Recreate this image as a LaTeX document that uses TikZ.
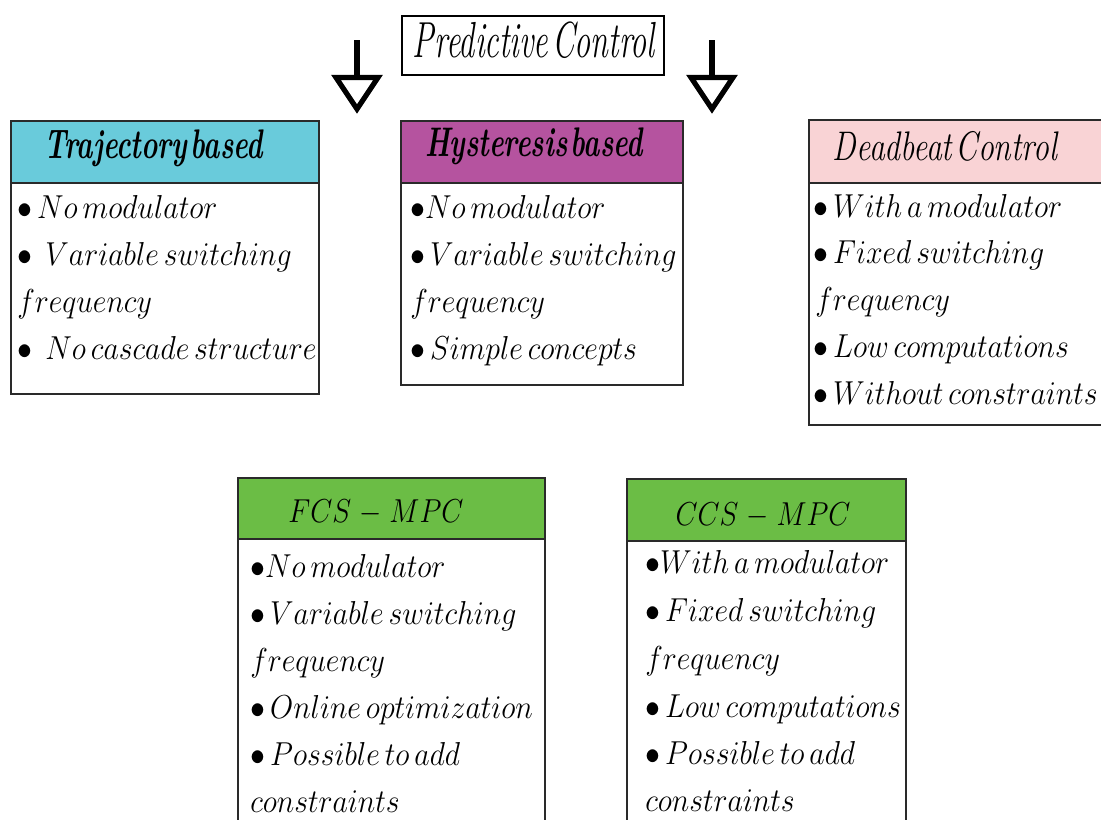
\documentclass[tikz,border=0pt]{standalone}
\usepackage{graphicx}
\usetikzlibrary{calc}
\definecolor{trajfill}{HTML}{69CBDB}
\definecolor{hystfill}{HTML}{B5539F}
\definecolor{deadfill}{HTML}{F9D3D5}
\definecolor{mpcfill}{HTML}{6BBD45}
\definecolor{rule}{HTML}{2A2A2A}
% title text stretched to a given width (in px of the layout grid)
\newcommand\titlefit[2]{\resizebox{\dimexpr 0.75pt*#1\relax}{\height}{#2}}
% one list entry, set as slightly condensed math italic
\newcommand\itm[1]{\scalebox{0.9}[1]{$#1$}}
% narrow gap between the words of a title
\newcommand\tgap{\hspace{0.12em}}
\begin{document}
\begin{tikzpicture}[x=0.75pt,y=-0.75pt,
  frame/.style={draw=rule,line width=1.5pt,anchor=north west,inner sep=0pt},
  ttl/.style={anchor=base,inner sep=0pt,font=\fontsize{31}{36}\selectfont},
  item/.style={anchor=base west,inner sep=0pt,font=\fontsize{27.5}{32}\selectfont},
  blockarrow/.style={draw=black,line width=3.9pt,fill=white,line join=miter}]
\useasboundingbox (0,0) rectangle (1101,819);
\fill[white] (0,0) rectangle (1101,819);

% root
\node[draw=black,line width=1.5pt,minimum width=262*0.75pt,minimum height=59*0.75pt,inner sep=0pt]
  (root) at (532.5,45) {};
\node[anchor=base,inner sep=0pt,font=\fontsize{38}{44}\selectfont] (roottext) at (534,57)
  {\titlefit{242}{\itshape Predictive\tgap Control}};

% the two open block arrows beside the root
\coordinate (la) at (357,40);
\coordinate (ra) at (712,40);
\draw[line width=3.9pt] (la) -- ++(0,38);
\draw[blockarrow] ($(la)+(-21,37.5)$) -- ++(42,0) -- ++(-21,31.5) -- cycle;
\draw[line width=3.9pt] (ra) -- ++(0,38);
\draw[blockarrow] ($(ra)+(-21,37.5)$) -- ++(42,0) -- ++(-21,31.5) -- cycle;

% ---- Trajectory based
\node[frame,fill=trajfill,minimum width=308*0.75pt,minimum height=62*0.75pt] (trajhead) at (10,120) {};
\node[frame,minimum width=308*0.75pt,minimum height=211*0.75pt] (trajbody) at (10,182) {};
\node[ttl] (trajtitle) at (154,158) {\titlefit{218}{\bfseries\itshape Trajectory\tgap based}};
\node[item] (traj1) at (17,218) {\itm{\bullet\,No\,modulator}};
\node[item] (traj2) at (17,265) {\itm{\bullet\;\,Variable\,switching}};
\node[item] (traj3) at (17,312) {\itm{frequency}};
\node[item] (traj4) at (17,359) {\itm{\bullet\;\,No\,cascade\,structure}};

% ---- Hysteresis based
\node[frame,fill=hystfill,minimum width=282*0.75pt,minimum height=62*0.75pt] (hysthead) at (400,120) {};
\node[frame,minimum width=282*0.75pt,minimum height=202*0.75pt] (hystbody) at (400,182) {};
\node[ttl] (hysttitle) at (534,156) {\titlefit{218}{\bfseries\itshape Hysteresis\tgap based}};
\node[item] (hyst1) at (410,218) {\itm{\bullet No\,modulator}};
\node[item] (hyst2) at (410,265) {\itm{\bullet\,Variable\,switching}};
\node[item] (hyst3) at (410,312) {\itm{frequency}};
\node[item] (hyst4) at (410,359) {\itm{\bullet\,Simple\,concepts}};

% ---- Deadbeat Control
\node[frame,fill=deadfill,minimum width=296*0.75pt,minimum height=63*0.75pt] (deadhead) at (808,119) {};
\node[frame,minimum width=296*0.75pt,minimum height=242*0.75pt] (deadbody) at (808,182) {};
\node[ttl] (deadtitle) at (945,160) {\titlefit{224}{\itshape Deadbeat\tgap Control}};
\node[item] (dead1) at (813,217) {\itm{\bullet\,With\,a\,modulator}};
\node[item] (dead2) at (813,263) {\itm{\bullet\,Fixed\,switching}};
\node[item] (dead3) at (815,310) {\itm{frequency}};
\node[item] (dead4) at (813,357) {\itm{\bullet\,Low\,computations}};
\node[item] (dead5) at (813,404) {\itm{\bullet\,Without\,constraints}};

% ---- FCS-MPC
\node[frame,fill=mpcfill,minimum width=307*0.75pt,minimum height=61*0.75pt] (fcshead) at (237,477) {};
\node[frame,minimum width=307*0.75pt,minimum height=300*0.75pt] (fcsbody) at (237,538) {};
\node[ttl] (fcstitle) at (376,522) {\titlefit{175}{$FCS\;{-}\;MPC$}};
\node[item] (fcs1) at (250,577) {\itm{\bullet No\,modulator}};
\node[item] (fcs2) at (250,624) {\itm{\bullet\,Variable\,switching}};
\node[item] (fcs3) at (250,671) {\itm{frequency}};
\node[item] (fcs4) at (250,718) {\itm{\bullet\,Online\,optimization}};
\node[item] (fcs5) at (250,765) {\itm{\bullet\,Possible\,to\,add}};
\node[item] (fcs6) at (250,812) {\itm{constraints}};

% ---- CCS-MPC
\node[frame,fill=mpcfill,minimum width=279*0.75pt,minimum height=62*0.75pt] (ccshead) at (626,478) {};
\node[frame,minimum width=279*0.75pt,minimum height=300*0.75pt] (ccsbody) at (626,540) {};
\node[ttl] (ccstitle) at (763,525) {\titlefit{175}{$CCS\;{-}\;MPC$}};
\node[item] (ccs1) at (645,573) {\itm{\bullet With\,a\,modulator}};
\node[item] (ccs2) at (645,621) {\itm{\bullet\,Fixed\,switching}};
\node[item] (ccs3) at (645,669) {\itm{frequency}};
\node[item] (ccs4) at (645,717) {\itm{\bullet\,Low\,computations}};
\node[item] (ccs5) at (645,764) {\itm{\bullet\,Possible\,to\,add}};
\node[item] (ccs6) at (645,811) {\itm{constraints}};
\end{tikzpicture}
\end{document}
